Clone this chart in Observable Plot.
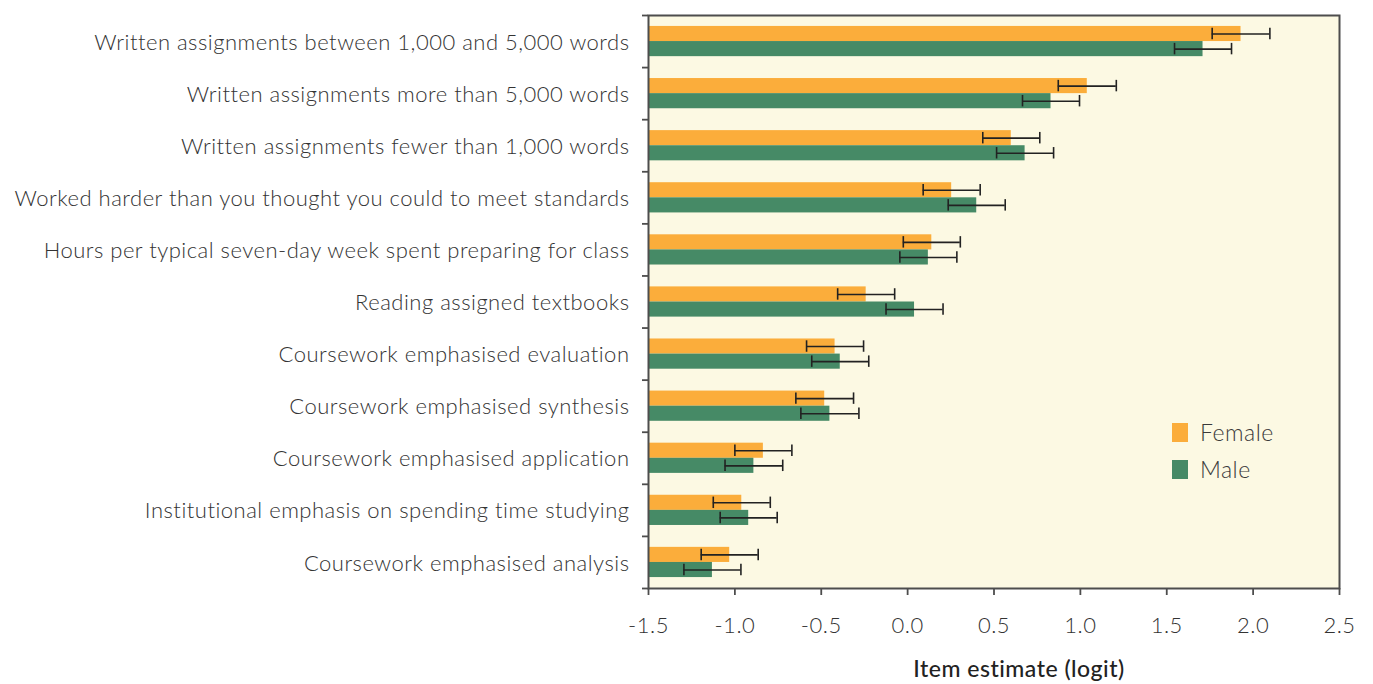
<!DOCTYPE html>
<html><head><meta charset="utf-8">
<script src="https://cdn.jsdelivr.net/npm/d3@7"></script>
<script src="https://cdn.jsdelivr.net/npm/@observablehq/plot@0.6"></script>
<style>
body{margin:0;background:#fff;}
#wrap{position:relative;width:1373px;height:684px;}
.legend{position:absolute;left:1172px;font-family:Lato,"Open Sans",sans-serif;font-weight:300;font-size:23px;letter-spacing:0.5px;color:#3a3a3a;display:flex;align-items:center;line-height:19px;}
.legend .sw{display:inline-block;width:16px;height:19px;margin-right:12px;}
</style></head><body><div id="wrap"></div>
<script>
const categories = [
  "Written assignments between 1,000 and 5,000 words",
  "Written assignments more than 5,000 words",
  "Written assignments fewer than 1,000 words",
  "Worked harder than you thought you could to meet standards",
  "Hours per typical seven-day week spent preparing for class",
  "Reading assigned textbooks",
  "Coursework emphasised evaluation",
  "Coursework emphasised synthesis",
  "Coursework emphasised application",
  "Institutional emphasis on spending time studying",
  "Coursework emphasised analysis"
];
const seriesNames = ["Female", "Male"];
const femaleValues = [1.93, 1.04, 0.60, 0.255, 0.14, -0.24, -0.42, -0.48, -0.835, -0.96, -1.03];
const femaleErr    = [0.167, 0.168, 0.165, 0.165, 0.165, 0.165, 0.165, 0.167, 0.165, 0.165, 0.165];
const maleValues   = [1.71, 0.83, 0.68, 0.40, 0.12, 0.04, -0.39, -0.45, -0.89, -0.92, -1.13];
const maleErr      = [0.165, 0.165, 0.165, 0.165, 0.165, 0.165, 0.165, 0.168, 0.167, 0.165, 0.165];
const xTicks = [-1.5, -1.0, -0.5, 0.0, 0.5, 1.0, 1.5, 2.0, 2.5];
const xTickLabels = ["-1.5", "-1.0", "-0.5", "0.0", "0.5", "1.0", "1.5", "2.0", "2.5"];
const colors = {Female: "#FBAD3B", Male: "#468A66"};
const xTitle = "Item estimate (logit)";

const rows = [];
categories.forEach((c, i) => {
  rows.push({cat: c, i, series: "Female", v: femaleValues[i], e: femaleErr[i], off: 0});
  rows.push({cat: c, i, series: "Male", v: maleValues[i], e: maleErr[i], off: 1});
});
const xmin = xTicks[0];
const barTop = 0.21, barH = 0.29;
const center = d => d.i + barTop + barH * d.off + barH / 2;

const font = 'Lato, "Open Sans", sans-serif';
const chart = Plot.plot({
  width: 1373, height: 684,
  marginLeft: 648, marginRight: 34, marginTop: 15, marginBottom: 96,
  style: {fontFamily: font, fontSize: "22px", color: "#333", background: "#fff", fontWeight: 300, letterSpacing: "0.5px"},
  x: {domain: [xTicks[0], xTicks[xTicks.length - 1]]},
  y: {domain: [0, categories.length], reverse: true},
  marks: [
    Plot.frame({fill: "#FCF9E3", stroke: null}),
    Plot.rectX(rows, {
      x1: () => xmin, x2: "v",
      y1: d => d.i + barTop + barH * d.off,
      y2: d => d.i + barTop + barH * (d.off + 1),
      fill: d => colors[d.series]
    }),
    Plot.ruleY(rows, {y: center, x1: d => d.v - d.e, x2: d => d.v + d.e, stroke: "#222", strokeWidth: 1.6}),
    Plot.ruleX(rows, {x: d => d.v - d.e, y1: d => center(d) - 0.11, y2: d => center(d) + 0.11, stroke: "#222", strokeWidth: 1.6}),
    Plot.ruleX(rows, {x: d => d.v + d.e, y1: d => center(d) - 0.11, y2: d => center(d) + 0.11, stroke: "#222", strokeWidth: 1.6}),
    Plot.frame({stroke: "#4d4d4d", strokeWidth: 2}),
    Plot.axisY(d3.range(categories.length + 1), {tickSize: 6, tickFormat: () => "", stroke: "#4d4d4d", strokeWidth: 1.8, label: null}),
    Plot.axisY(d3.range(categories.length).map(i => i + 0.5), {
      tickSize: 0, tickPadding: 19, tickFormat: d => categories[Math.floor(d)], label: null, fill: "#333", dy: 1
    }),
    Plot.axisX(xTicks, {tickSize: 7, tickPadding: 22, tickFormat: (d, i) => xTickLabels[i], label: null, stroke: "#4d4d4d", strokeWidth: 1.8, fill: "#333"}),
    Plot.text([xTitle], {frameAnchor: "bottom", dx: 25, dy: 88, text: d => d, fontSize: 23, fontWeight: 500, fill: "#222"})
  ]
});
const wrap = document.getElementById("wrap");
wrap.appendChild(chart);
const legendTops = [423, 460];
seriesNames.forEach((s, k) => {
  const el = document.createElement("div");
  el.className = "legend";
  el.style.top = legendTops[k] + "px";
  el.innerHTML = `<span class="sw" style="background:${colors[s]}"></span><span>${s}</span>`;
  wrap.appendChild(el);
});
</script></body></html>
